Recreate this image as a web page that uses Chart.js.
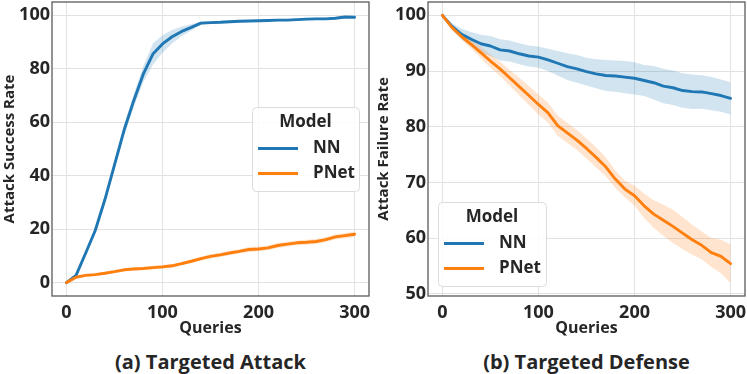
<!DOCTYPE html>
<html lang="en">
<head>
<meta charset="UTF-8">
<title>Targeted Attack / Targeted Defense</title>
<script src="https://cdn.jsdelivr.net/npm/chart.js"></script>
<style>
  body { margin: 0; background: #fff; font-family: 'Open Sans', sans-serif; }
  #wrap { position: relative; width: 747px; height: 374px; }
  .panel { position: absolute; top: 0; height: 374px; }
  #panelA { left: 0; width: 374px; }
  #panelB { left: 374px; width: 373px; }
  .caption { position: absolute; top: 348px; font-weight: bold; font-size: 20px; line-height: 28px; color: #262626; text-align: center; }
  #panelA .caption { left: 52px; right: 5px; }
  #panelB .caption { left: 54px; right: 2px; }
</style>
</head>
<body>
<div id="wrap">
  <div class="panel" id="panelA">
    <canvas id="attackChart" width="374" height="340"></canvas>
    <div class="caption">(a) Targeted Attack</div>
  </div>
  <div class="panel" id="panelB">
    <canvas id="defenseChart" width="373" height="340"></canvas>
    <div class="caption">(b) Targeted Defense</div>
  </div>
</div>

<script>
const queries = [0, 10, 20, 30, 40, 50, 60, 70, 80, 90, 100, 110, 120, 130, 140, 150,
                 160, 170, 180, 190, 200, 210, 220, 230, 240, 250, 260, 270, 280, 290, 300];
const seriesNames = ['NN', 'PNet'];

// (a) attack success rate
const attackNN = [0, 2.7, 11, 19.5, 31, 44, 57, 68, 78, 85.5, 89.3, 92, 94, 95.5, 97.1, 97.3,
                  97.4, 97.6, 97.8, 97.9, 98, 98.1, 98.2, 98.2, 98.4, 98.6, 98.7, 98.7, 98.9, 99.4, 99.3];
const attackNNSpread = [0, 0.5, 0.8, 1.0, 1.3, 1.6, 2.0, 2.5, 3.0, 4.0, 3.3, 2.5, 1.8, 1.2, 0.6, 0.5,
                        0.5, 0.5, 0.4, 0.4, 0.4, 0.4, 0.4, 0.4, 0.4, 0.4, 0.4, 0.4, 0.4, 0.4, 0.4];
const attackPNet = [0, 2.0, 2.7, 3.0, 3.5, 4.1, 4.8, 5.1, 5.3, 5.6, 5.9, 6.3, 7.1, 8.0, 9.0, 9.8,
                    10.4, 11.1, 11.7, 12.4, 12.6, 13.0, 13.9, 14.4, 14.9, 15.1, 15.4, 16.1, 17.1, 17.6, 18.1];
const attackPNetSpread = [0, 0.3, 0.4, 0.5, 0.5, 0.6, 0.6, 0.6, 0.6, 0.7, 0.7, 0.7, 0.7, 0.7, 0.8, 0.8,
                          0.8, 0.8, 0.8, 0.9, 0.9, 0.9, 0.9, 0.9, 0.9, 0.9, 0.9, 0.9, 1.0, 1.0, 1.0];

// (b) attack failure rate
const defenseNN = [100, 98.0, 96.6, 95.7, 94.9, 94.5, 93.8, 93.6, 93.1, 92.7, 92.5, 92.0, 91.4, 90.8, 90.4, 89.9,
                   89.5, 89.2, 89.1, 88.9, 88.7, 88.3, 87.9, 87.3, 87.0, 86.5, 86.3, 86.25, 85.95, 85.6, 85.1];
const defenseNNSpread = [0, 0.6, 1.0, 1.3, 1.6, 1.8, 1.9, 1.9, 1.9, 1.9, 1.9, 2.0, 2.2, 2.4, 2.5, 2.5,
                         2.6, 2.8, 2.8, 2.9, 2.9, 2.8, 3.0, 3.1, 3.1, 3.1, 3.1, 3.0, 3.0, 2.9, 2.9];
const defensePNet = [100, 97.8, 96.2, 94.8, 93.3, 91.8, 90.4, 88.8, 87.2, 85.6, 84.0, 82.5, 80.2, 78.9, 77.6, 76.1,
                     74.5, 72.8, 70.6, 68.8, 67.6, 65.8, 64.3, 63.2, 62.1, 60.9, 59.7, 58.7, 57.4, 56.7, 55.4];
const defensePNetSpread = [0, 0.3, 0.6, 0.8, 1.0, 1.2, 1.3, 1.4, 1.6, 1.7, 1.8, 1.8, 1.8, 1.8, 1.8, 1.8,
                           1.8, 1.7, 1.6, 1.5, 1.8, 2.2, 2.5, 2.8, 3.0, 2.9, 2.7, 2.5, 2.6, 3.0, 3.5];

const xTicks = [0, 100, 200, 300];
const attackTicks = [0, 20, 40, 60, 80, 100];
const defenseTicks = [50, 60, 70, 80, 90, 100];

const colors = ['#1f77b4', '#ff7f0e'];
const bandColors = ['rgba(31,119,180,0.2)', 'rgba(255,127,14,0.2)'];
const textColor = '#262626';
const FONT = "'Open Sans', sans-serif";

function pts(vals, off, sign) {
  return vals.map((v, i) => ({ x: queries[i], y: off ? v + sign * off[i] : v }));
}

function buildDatasets(nn, nnSpread, pnet, pnetSpread) {
  const line = (data, c) => ({
    data, borderColor: c, borderWidth: 2.9, pointRadius: 0, fill: false,
    borderCapStyle: 'round', borderJoinStyle: 'round', tension: 0
  });
  const band = (data, c, fill) => ({
    data, borderWidth: 0, borderColor: 'rgba(0,0,0,0)', backgroundColor: c,
    pointRadius: 0, fill: fill, tension: 0
  });
  // first in the list is drawn on top
  return [
    line(pts(pnet), colors[1]),
    line(pts(nn), colors[0]),
    band(pts(pnet, pnetSpread, 1), bandColors[1], '+1'),
    band(pts(pnet, pnetSpread, -1), bandColors[1], false),
    band(pts(nn, nnSpread, 1), bandColors[0], '+1'),
    band(pts(nn, nnSpread, -1), bandColors[0], false)
  ];
}

const framePlugin = {
  id: 'frame',
  afterDatasetsDraw(chart) {
    const { ctx, chartArea: a } = chart;
    ctx.save();
    ctx.strokeStyle = '#5a5a5a';
    ctx.lineWidth = 1.3;
    ctx.strokeRect(a.left, a.top, a.right - a.left, a.bottom - a.top);
    ctx.restore();
  }
};

const legendPlugin = {
  id: 'legendBox',
  afterDraw(chart, args, o) {
    const ctx = chart.ctx;
    ctx.save();
    ctx.fillStyle = 'rgba(255,255,255,0.85)';
    ctx.strokeStyle = '#dcdcdc';
    ctx.lineWidth = 1;
    ctx.beginPath();
    ctx.roundRect(o.x + 0.5, o.y + 0.5, o.w, o.h, 4);
    ctx.fill();
    ctx.stroke();
    ctx.fillStyle = textColor;
    ctx.font = 'bold 17px ' + FONT;
    ctx.textAlign = 'center';
    ctx.textBaseline = 'middle';
    ctx.fillText('Model', o.x + o.w / 2, o.y + 15.5);
    seriesNames.forEach((name, i) => {
      const yy = o.y + 41.5 + i * 25;
      ctx.strokeStyle = colors[i];
      ctx.lineWidth = 2.9;
      ctx.beginPath();
      ctx.moveTo(o.x + 6, yy);
      ctx.lineTo(o.x + 46, yy);
      ctx.stroke();
      ctx.textAlign = 'left';
      ctx.fillText(name, o.x + 61, yy);
    });
    ctx.restore();
  }
};

function makeChart(id, datasets, yTitle, yMin, yMax, yTicks, axisWidth, padRight, legendPos) {
  return new Chart(document.getElementById(id), {
    type: 'line',
    data: { datasets },
    plugins: [framePlugin, legendPlugin],
    options: {
      responsive: false,
      animation: false,
      layout: { padding: { left: 0, right: padRight, top: 2, bottom: 3.4 } },
      plugins: {
        legend: { display: false },
        tooltip: { enabled: false },
        legendBox: legendPos
      },
      scales: {
        x: {
          type: 'linear', min: -15, max: 315,
          afterBuildTicks: s => { s.ticks = xTicks.map(v => ({ value: v })); },
          afterFit: s => { s.paddingLeft = 0; s.paddingRight = 0; },
          grid: { color: '#e2e2e2', lineWidth: 1, drawTicks: false },
          border: { display: false },
          ticks: { color: textColor, padding: 6, font: { family: FONT, size: 18, weight: 'bold' } },
          title: {
            display: true, text: 'Queries', color: textColor, padding: { top: -9, bottom: 0 },
            font: { family: FONT, size: 16, weight: 'bold', lineHeight: 1 }
          }
        },
        y: {
          type: 'linear', min: yMin, max: yMax,
          afterBuildTicks: s => { s.ticks = yTicks.map(v => ({ value: v })); },
          afterFit: s => { s.width = axisWidth; s.paddingTop = 0; s.paddingBottom = 0; },
          grid: { color: '#e2e2e2', lineWidth: 1, drawTicks: false },
          border: { display: false },
          ticks: { color: textColor, padding: 2, font: { family: FONT, size: 18, weight: 'bold' } },
          title: {
            display: true, text: yTitle, color: textColor, padding: { top: 2.5, bottom: 0 },
            font: { family: FONT, size: 15, weight: 'bold', lineHeight: 1 }
          }
        }
      }
    }
  });
}

makeChart('attackChart',
  buildDatasets(attackNN, attackNNSpread, attackPNet, attackPNetSpread),
  'Attack Success Rate', -5, 105, attackTicks, 52, 5,
  { x: 252, y: 107, w: 107, h: 84 });

makeChart('defenseChart',
  buildDatasets(defenseNN, defenseNNSpread, defensePNet, defensePNetSpread),
  'Attack Failure Rate', 49.6, 102.4, defenseTicks, 54, 2,
  { x: 64, y: 202, w: 108, h: 84 });
</script>
</body>
</html>
